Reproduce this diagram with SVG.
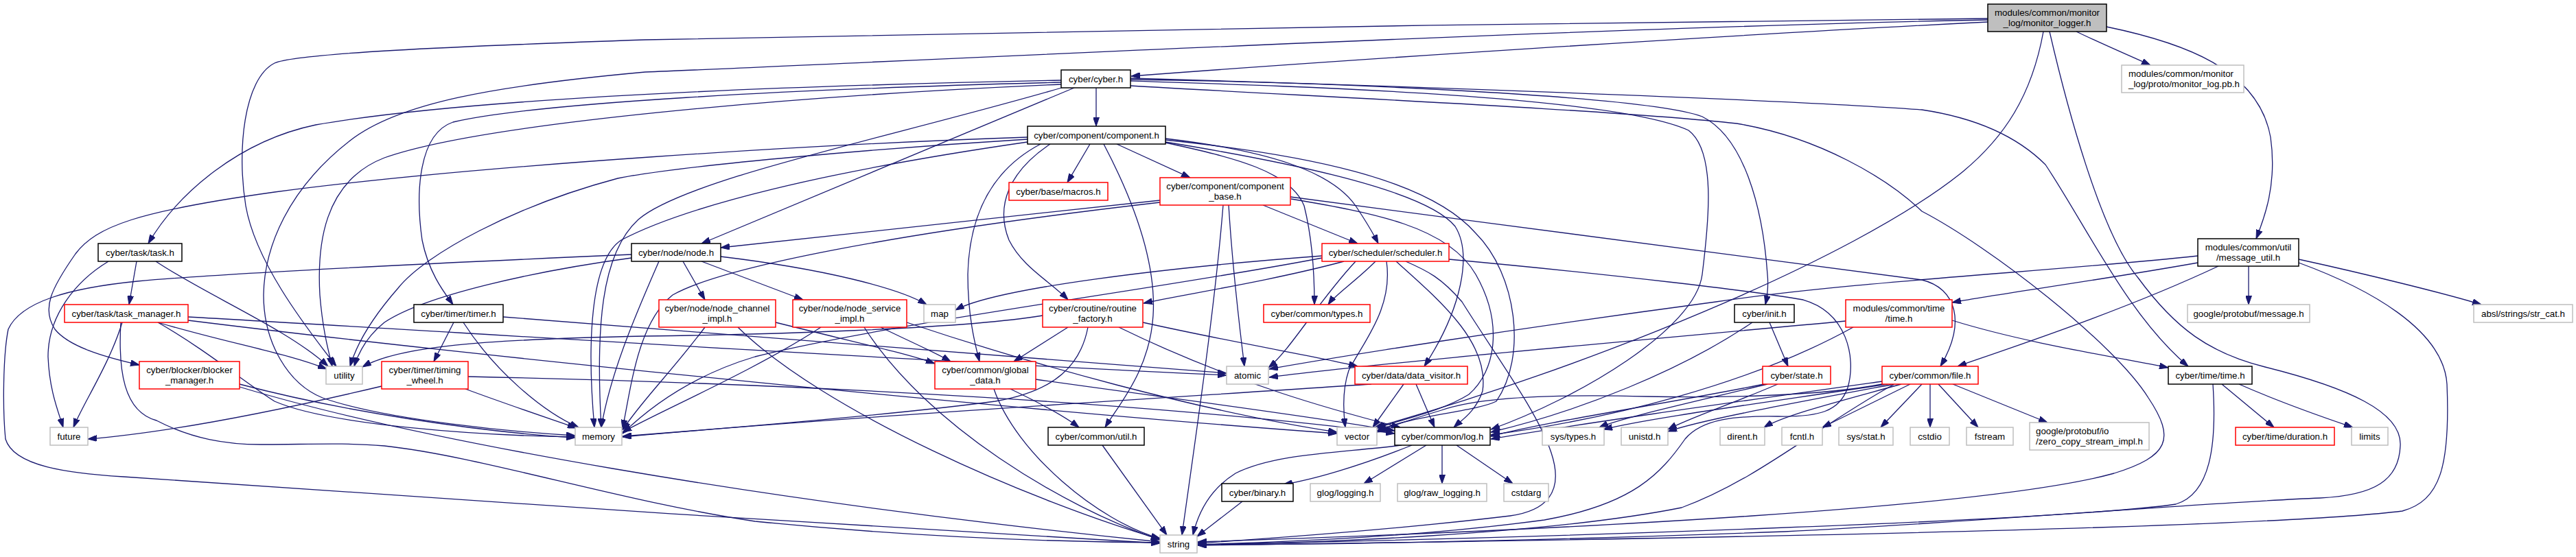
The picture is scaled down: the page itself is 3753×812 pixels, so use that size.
<svg xmlns="http://www.w3.org/2000/svg" width="3753" height="812" viewBox="0 0 3753 812">
<style>
.e path{fill:none;stroke:#191970;stroke-width:1.3;marker-end:url(#a)}
rect{fill:#fff;stroke-width:1.5}
.k rect{stroke:#000}
.r rect{stroke:#ff0000}
.g rect{stroke:#bfbfbf}
.top rect{fill:#bfbfbf;stroke:#000}
text{font-family:"Liberation Sans",Arial,Helvetica,sans-serif;font-size:13.3px;fill:#000;text-anchor:middle}
text.l{text-anchor:start}
</style>
<defs>
<marker id="a" markerWidth="13" markerHeight="9" refX="13" refY="4.5" orient="auto" markerUnits="userSpaceOnUse"><path d="M0,0 L13,4.5 L0,9 Z" fill="#191970" stroke="#191970" stroke-width="1"/></marker>
</defs>
<rect x="0" y="0" width="3753" height="812" style="fill:#fff;stroke:none"/>
<g id="connectors" class="e">
<path d="M2896,32 C2500,52 1950,88 1648,111"/>
<path d="M2896,27 C2300,33 1200,48 940,58 C650,68 430,78 400,92 C355,115 345,220 358,300 C372,380 440,470 490,534"/>
<path d="M2896,29 C2300,40 1200,95 940,105 C720,125 580,150 510,205 C420,275 385,360 384,430 C384,500 420,560 470,580 C560,612 750,630 838,635"/>
<path d="M3025,46 C3060,63 3100,80 3133,95"/>
<path d="M3069,39 C3180,62 3290,100 3308,200 C3318,270 3298,320 3287,348"/>
<path d="M2977,46 C2960,140 2920,200 2860,250 C2700,380 2300,540 2003,623"/>
<path d="M2986,46 C3010,150 3060,340 3115,405 C3170,480 3220,515 3300,535 C3420,565 3500,600 3497,650 C3495,700 3460,722 3380,726 C3200,733 2900,760 2600,775 C2200,790 1900,794 1745,794"/>
<path d="M1597,128 L1597,184"/>
<path d="M1546,117 C1200,124 700,140 460,182 C350,205 260,280 216,355"/>
<path d="M1546,120 C1150,130 780,150 660,178 C610,195 605,280 615,350 C625,400 650,430 660,444"/>
<path d="M1565,128 L1022,355"/>
<path d="M1546,123 C1150,140 700,180 560,230 C470,265 462,360 466,430 C470,480 478,510 484,534"/>
<path d="M1550,127 C1300,200 1000,260 930,320 C875,370 868,480 876,623"/>
<path d="M1647,125 C1900,140 2350,160 2530,180 C2650,200 2750,260 2800,308 C2900,360 3080,500 3130,580 C3170,640 3160,665 3080,690 C2900,740 2300,772 1745,790"/>
<path d="M1647,118 C1900,126 2350,140 2460,190 C2500,220 2490,320 2480,400 C2470,480 2300,580 2172,626"/>
<path d="M1647,116 C1950,120 2400,140 2480,170 C2540,200 2568,300 2575,400 C2577,420 2574,435 2572,444"/>
<path d="M1647,114 C2000,124 2600,145 2800,160 C2880,172 2940,200 2980,240 C3040,330 3100,460 3188,534"/>
<path d="M1588,210 L1555,266"/>
<path d="M1627,210 L1734,259"/>
<path d="M1497,200 C1200,210 700,240 400,280 C200,308 140,330 110,370 C75,420 60,450 80,480 C100,505 150,520 203,532"/>
<path d="M1497,203 C1300,215 1000,240 900,260 C750,300 620,370 580,420 C545,460 520,500 510,534"/>
<path d="M1497,207 C1200,250 1000,300 905,350 C860,380 855,500 866,623"/>
<path d="M1698,204 C1900,225 2080,260 2150,340 C2210,400 2225,520 2180,585 C2150,600 2060,605 2006,628"/>
<path d="M1516,210 C1440,250 1412,320 1410,400 C1410,460 1420,500 1427,527"/>
<path d="M1530,210 C1470,250 1450,300 1470,350 C1490,390 1530,410 1556,437"/>
<path d="M1608,210 C1650,290 1685,380 1680,460 C1675,540 1630,590 1610,623"/>
<path d="M1698,208 C1800,230 1880,250 1900,300 C1915,360 1915,420 1915,444"/>
<path d="M1698,207 C1900,240 2080,280 2120,330 C2145,370 2130,450 2075,534"/>
<path d="M1698,202 C1850,220 1940,250 1975,300 C1995,330 2003,345 2008,355"/>
<path d="M1690,292 L1050,361"/>
<path d="M1840,299 L1978,355"/>
<path d="M1790,299 C1795,380 1805,470 1813,534"/>
<path d="M1782,299 C1770,450 1740,650 1722,780"/>
<path d="M1690,295 C1300,340 1050,390 980,430 C930,470 920,560 907,625"/>
<path d="M1881,290 C2000,310 2110,330 2150,400 C2190,470 2180,540 2140,575 C2100,600 2040,612 2006,624"/>
<path d="M1880,287 C2200,330 2600,380 2800,408 C2850,420 2865,470 2827,534"/>
<path d="M199,381 L188,444"/>
<path d="M158,381 C110,410 70,460 70,520 C72,570 85,600 92,623"/>
<path d="M227,381 C300,430 420,480 478,534"/>
<path d="M178,470 C160,530 120,590 107,623"/>
<path d="M230,470 C330,500 420,515 476,538"/>
<path d="M230,470 C300,510 360,560 400,585 C480,620 700,635 838,637"/>
<path d="M176,470 C172,540 180,600 228,613 C280,640 330,648 380,648 C450,648 500,645 560,650 C700,665 900,730 1100,760 C1350,785 1550,790 1690,791"/>
<path d="M274,462 C600,480 1300,525 1787,547"/>
<path d="M274,467 C700,520 1500,600 1948,632"/>
<path d="M995,381 L1027,437"/>
<path d="M1022,381 L1170,437"/>
<path d="M1050,374 C1200,392 1310,420 1350,444"/>
<path d="M960,381 C930,450 890,540 876,623"/>
<path d="M920,376 C780,395 620,430 560,470 C535,490 522,515 516,534"/>
<path d="M920,371 C600,385 330,398 200,410 C100,420 30,440 12,480 C4,520 4,600 8,640 C20,680 100,690 180,695 C500,720 1300,770 1690,792"/>
<path d="M2004,381 C1975,410 1945,430 1935,444"/>
<path d="M1926,373 C1700,390 1450,420 1392,452"/>
<path d="M1958,381 C1850,410 1720,430 1666,442"/>
<path d="M1975,381 C1920,440 1880,510 1848,536"/>
<path d="M1926,376 C1700,420 1300,470 1100,520 C1000,550 940,600 907,632"/>
<path d="M2020,381 C2030,450 1985,500 1965,540 C1955,570 1957,600 1960,623"/>
<path d="M2034,381 C2100,440 2170,500 2160,570 C2150,600 2130,612 2118,623"/>
<path d="M2048,381 C2080,395 2100,405 2130,440 C2180,520 2240,600 2260,660 C2280,720 2250,745 2200,752 C2050,770 1850,785 1745,792"/>
<path d="M2111,378 C2350,400 2560,425 2627,437 C2690,455 2705,520 2692,565 C2680,600 2650,608 2590,607 C2530,606 2480,610 2455,640 C2420,690 2380,735 2250,758 C2050,785 1850,790 1745,794"/>
<path d="M3276,388 L3276,444"/>
<path d="M3349,378 C3450,400 3570,430 3615,444"/>
<path d="M3349,383 C3450,420 3560,480 3565,560 C3570,680 3555,730 3500,745 C3300,770 2500,785 1745,795"/>
<path d="M3232,388 C3100,450 2950,500 2852,534"/>
<path d="M3202,383 C3050,410 2900,430 2844,441"/>
<path d="M3202,373 C3000,395 2700,410 2500,440 C2200,480 1950,520 1849,538"/>
<path d="M661,470 L632,527"/>
<path d="M675,470 C720,540 790,600 843,623"/>
<path d="M733,462 C1100,490 1500,525 1787,544"/>
<path d="M1027,477 C980,540 930,590 907,627"/>
<path d="M1075,477 C1200,600 1500,730 1690,786"/>
<path d="M1130,470 C1250,500 1320,515 1362,530"/>
<path d="M1196,477 C1100,540 960,600 907,630"/>
<path d="M1259,477 C1350,620 1550,740 1690,787"/>
<path d="M1283,477 C1330,500 1365,515 1385,527"/>
<path d="M1321,470 C1500,530 1750,600 1948,630"/>
<path d="M1556,477 L1477,527"/>
<path d="M1519,460 C1400,480 1100,488 940,490 C700,495 580,505 528,535"/>
<path d="M1585,477 C1575,530 1540,570 1450,585 C1300,605 1050,625 907,636"/>
<path d="M1630,477 C1800,560 1950,600 2040,623"/>
<path d="M1665,470 C1800,500 1920,520 1978,534"/>
<path d="M2553,470 C2450,540 2300,600 2172,630"/>
<path d="M2578,470 L2605,534"/>
<path d="M2689,468 C2400,495 2000,530 1849,550"/>
<path d="M2700,477 C2550,560 2350,610 2172,634"/>
<path d="M2844,467 C2950,500 3080,520 3159,536"/>
<path d="M349,560 C500,600 700,630 838,638"/>
<path d="M349,564 C600,640 1100,730 1690,790"/>
<path d="M556,563 C400,600 250,630 128,640"/>
<path d="M678,567 C740,590 800,610 840,624"/>
<path d="M682,549 C1200,560 1700,590 2032,632"/>
<path d="M1472,567 C1520,590 1555,610 1572,623"/>
<path d="M1448,567 C1480,660 1600,760 1690,785"/>
<path d="M1509,553 C1700,580 1900,605 2032,628"/>
<path d="M1998,560 C1700,580 1200,610 907,637"/>
<path d="M2045,560 L2000,623"/>
<path d="M2063,560 L2090,623"/>
<path d="M2575,560 C2450,590 2360,610 2330,623"/>
<path d="M2590,560 C2520,590 2460,610 2430,626"/>
<path d="M2570,560 C2420,590 2250,615 2172,636"/>
<path d="M2742,556 C2500,590 2300,618 2172,640"/>
<path d="M2742,560 C2650,578 2500,580 2400,578 C2250,574 2150,580 2100,598 C2060,610 2030,620 2006,630"/>
<path d="M2750,560 C2550,590 2400,610 2336,626"/>
<path d="M2760,560 C2600,590 2480,612 2430,629"/>
<path d="M2770,560 C2680,585 2600,605 2570,623"/>
<path d="M2783,560 L2655,623"/>
<path d="M2800,560 L2740,623"/>
<path d="M2812,560 L2812,623"/>
<path d="M2824,560 L2882,623"/>
<path d="M2845,560 L2983,616"/>
<path d="M2760,560 C2650,620 2560,700 2450,740 C2250,780 1900,792 1745,794"/>
<path d="M3237,560 L3313,623"/>
<path d="M3262,560 C3330,590 3390,610 3428,623"/>
<path d="M3224,560 C3230,650 3220,720 3170,735 C3000,760 2200,785 1745,794"/>
<path d="M2057,649 C1980,680 1910,700 1870,706"/>
<path d="M2078,649 L1987,705"/>
<path d="M2101,649 L2101,705"/>
<path d="M2122,649 L2204,705"/>
<path d="M2042,649 C1960,660 1860,660 1800,690 C1760,715 1745,750 1738,780"/>
<path d="M1810,731 L1744,782"/>
<path d="M1606,649 L1700,780"/>
</g>
<g id="n-monitor_logger" class="top"><rect x="2896" y="6" width="173" height="40"/><text><tspan x="2982.5" y="23">modules/common/monitor</tspan><tspan x="2982.5" y="38">_log/monitor_logger.h</tspan></text></g>
<g id="n-monitor_log_pb" class="g"><rect x="3091" y="95" width="178" height="40"/><text class="l"><tspan x="3101" y="112">modules/common/monitor</tspan><tspan x="3101" y="127">_log/proto/monitor_log.pb.h</tspan></text></g>
<g id="n-message_util" class="k"><rect x="3202" y="348" width="147" height="40"/><text><tspan x="3275.5" y="365">modules/common/util</tspan><tspan x="3275.5" y="380">/message_util.h</tspan></text></g>
<g id="n-cyber" class="k"><rect x="1546" y="102" width="101" height="26"/><text x="1596.5" y="119.5">cyber/cyber.h</text></g>
<g id="n-component" class="k"><rect x="1497" y="184" width="201" height="26"/><text x="1597.5" y="201.5">cyber/component/component.h</text></g>
<g id="n-macros" class="r"><rect x="1470" y="266" width="144" height="26"/><text x="1542" y="283.5">cyber/base/macros.h</text></g>
<g id="n-component_base" class="r"><rect x="1690" y="259" width="190" height="40"/><text><tspan x="1785" y="276">cyber/component/component</tspan><tspan x="1785" y="291">_base.h</tspan></text></g>
<g id="n-task" class="k"><rect x="143" y="355" width="122" height="26"/><text x="204" y="372.5">cyber/task/task.h</text></g>
<g id="n-node" class="k"><rect x="920" y="355" width="130" height="26"/><text x="985" y="372.5">cyber/node/node.h</text></g>
<g id="n-scheduler" class="r"><rect x="1926" y="355" width="185" height="26"/><text x="2018.5" y="372.5">cyber/scheduler/scheduler.h</text></g>
<g id="n-task_manager" class="r"><rect x="94" y="444" width="180" height="26"/><text x="184" y="461.5">cyber/task/task_manager.h</text></g>
<g id="n-timer" class="k"><rect x="603" y="444" width="130" height="26"/><text x="668" y="461.5">cyber/timer/timer.h</text></g>
<g id="n-map" class="g"><rect x="1346" y="444" width="46" height="26"/><text x="1369" y="461.5">map</text></g>
<g id="n-types" class="r"><rect x="1841" y="444" width="155" height="26"/><text x="1918.5" y="461.5">cyber/common/types.h</text></g>
<g id="n-init" class="k"><rect x="2527" y="444" width="87" height="26"/><text x="2570.5" y="461.5">cyber/init.h</text></g>
<g id="n-pb_message" class="g"><rect x="3187" y="444" width="178" height="26"/><text x="3276" y="461.5">google/protobuf/message.h</text></g>
<g id="n-str_cat" class="g"><rect x="3604" y="444" width="144" height="26"/><text x="3676" y="461.5">absl/strings/str_cat.h</text></g>
<g id="n-node_channel_impl" class="r"><rect x="960" y="437" width="170" height="40"/><text><tspan x="1045" y="454">cyber/node/node_channel</tspan><tspan x="1045" y="469">_impl.h</tspan></text></g>
<g id="n-node_service_impl" class="r"><rect x="1155" y="437" width="166" height="40"/><text><tspan x="1238" y="454">cyber/node/node_service</tspan><tspan x="1238" y="469">_impl.h</tspan></text></g>
<g id="n-routine_factory" class="r"><rect x="1519" y="437" width="146" height="40"/><text><tspan x="1592" y="454">cyber/croutine/routine</tspan><tspan x="1592" y="469">_factory.h</tspan></text></g>
<g id="n-modules_time" class="r"><rect x="2689" y="437" width="155" height="40"/><text><tspan x="2766.5" y="454">modules/common/time</tspan><tspan x="2766.5" y="469">/time.h</tspan></text></g>
<g id="n-utility" class="g"><rect x="475" y="534" width="53" height="26"/><text x="501.5" y="551.5">utility</text></g>
<g id="n-atomic" class="g"><rect x="1787" y="534" width="61" height="26"/><text x="1817.5" y="551.5">atomic</text></g>
<g id="n-data_visitor" class="r"><rect x="1974" y="534" width="164" height="26"/><text x="2056" y="551.5">cyber/data/data_visitor.h</text></g>
<g id="n-state" class="r"><rect x="2568" y="534" width="99" height="26"/><text x="2617.5" y="551.5">cyber/state.h</text></g>
<g id="n-file" class="r"><rect x="2742" y="534" width="140" height="26"/><text x="2812" y="551.5">cyber/common/file.h</text></g>
<g id="n-cyber_time" class="k"><rect x="3159" y="534" width="122" height="26"/><text x="3220" y="551.5">cyber/time/time.h</text></g>
<g id="n-blocker_manager" class="r"><rect x="203" y="527" width="146" height="40"/><text><tspan x="276" y="544">cyber/blocker/blocker</tspan><tspan x="276" y="559">_manager.h</tspan></text></g>
<g id="n-timing_wheel" class="r"><rect x="556" y="527" width="126" height="40"/><text><tspan x="619" y="544">cyber/timer/timing</tspan><tspan x="619" y="559">_wheel.h</tspan></text></g>
<g id="n-global_data" class="r"><rect x="1362" y="527" width="147" height="40"/><text><tspan x="1435.5" y="544">cyber/common/global</tspan><tspan x="1435.5" y="559">_data.h</tspan></text></g>
<g id="n-future" class="g"><rect x="73" y="623" width="55" height="26"/><text x="100.5" y="640.5">future</text></g>
<g id="n-memory" class="g"><rect x="838" y="623" width="68" height="26"/><text x="872" y="640.5">memory</text></g>
<g id="n-util" class="k"><rect x="1527" y="623" width="140" height="26"/><text x="1597" y="640.5">cyber/common/util.h</text></g>
<g id="n-vector" class="g"><rect x="1948" y="623" width="58" height="26"/><text x="1977" y="640.5">vector</text></g>
<g id="n-log" class="k"><rect x="2032" y="623" width="139" height="26"/><text x="2101.5" y="640.5">cyber/common/log.h</text></g>
<g id="n-sys_types" class="g"><rect x="2247" y="623" width="90" height="26"/><text x="2292" y="640.5">sys/types.h</text></g>
<g id="n-unistd" class="g"><rect x="2362" y="623" width="68" height="26"/><text x="2396" y="640.5">unistd.h</text></g>
<g id="n-dirent" class="g"><rect x="2506" y="623" width="65" height="26"/><text x="2538.5" y="640.5">dirent.h</text></g>
<g id="n-fcntl" class="g"><rect x="2596" y="623" width="59" height="26"/><text x="2625.5" y="640.5">fcntl.h</text></g>
<g id="n-sys_stat" class="g"><rect x="2679" y="623" width="79" height="26"/><text x="2718.5" y="640.5">sys/stat.h</text></g>
<g id="n-cstdio" class="g"><rect x="2783" y="623" width="57" height="26"/><text x="2811.5" y="640.5">cstdio</text></g>
<g id="n-fstream" class="g"><rect x="2865" y="623" width="68" height="26"/><text x="2899" y="640.5">fstream</text></g>
<g id="n-zero_copy" class="g"><rect x="2957" y="616" width="174" height="40"/><text class="l"><tspan x="2966" y="633">google/protobuf/io</tspan><tspan x="2966" y="648">/zero_copy_stream_impl.h</tspan></text></g>
<g id="n-duration" class="r"><rect x="3257" y="623" width="144" height="26"/><text x="3329" y="640.5">cyber/time/duration.h</text></g>
<g id="n-limits" class="g"><rect x="3426" y="623" width="53" height="26"/><text x="3452.5" y="640.5">limits</text></g>
<g id="n-binary" class="k"><rect x="1780" y="705" width="104" height="26"/><text x="1832" y="722.5">cyber/binary.h</text></g>
<g id="n-glog_logging" class="g"><rect x="1909" y="705" width="102" height="26"/><text x="1960" y="722.5">glog/logging.h</text></g>
<g id="n-glog_raw" class="g"><rect x="2036" y="705" width="130" height="26"/><text x="2101" y="722.5">glog/raw_logging.h</text></g>
<g id="n-cstdarg" class="g"><rect x="2191" y="705" width="65" height="26"/><text x="2223.5" y="722.5">cstdarg</text></g>
<g id="n-string" class="g"><rect x="1690" y="780" width="54" height="26"/><text x="1717" y="797.5">string</text></g>
</svg>
